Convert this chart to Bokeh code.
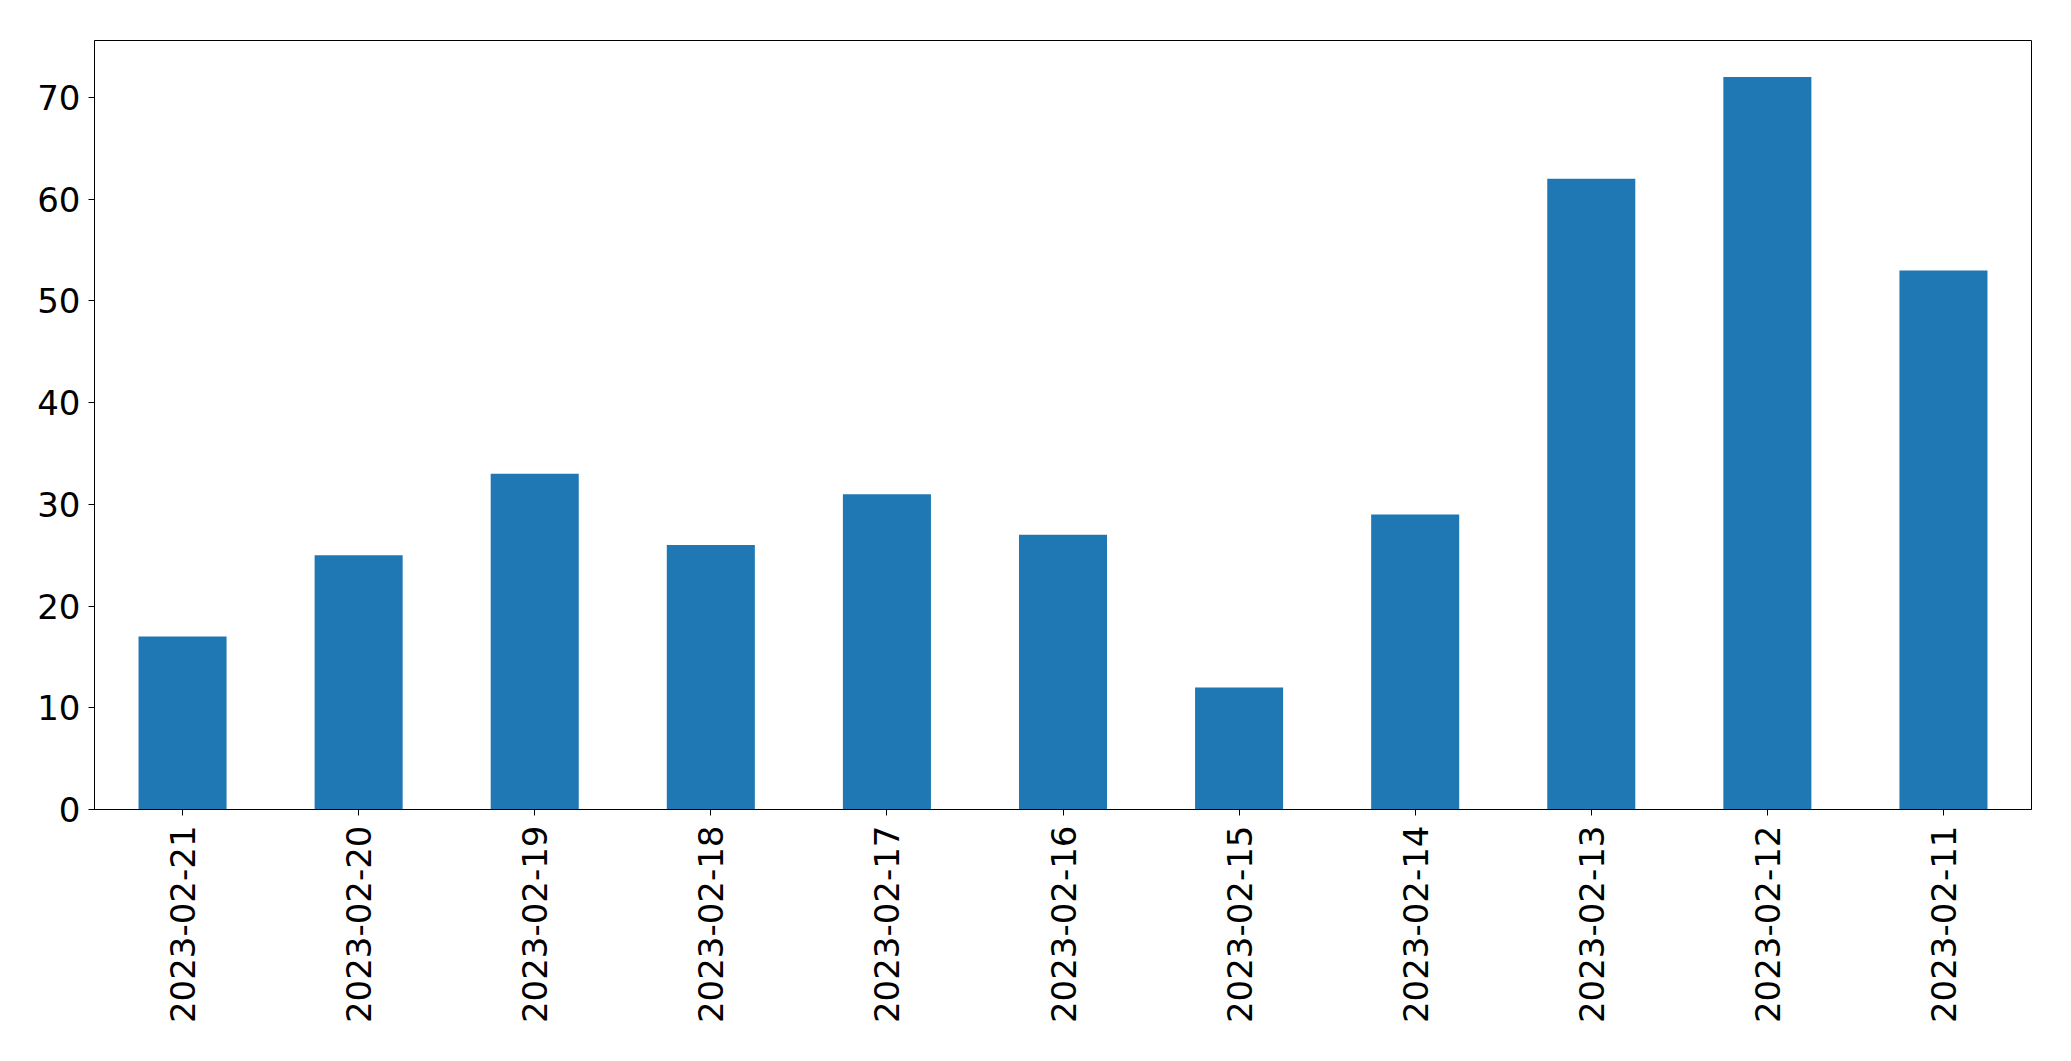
import math
from bokeh.plotting import figure
from bokeh.models import Range1d, FactorRange, SingleIntervalTicker
from bokeh.embed import file_html
from bokeh.resources import INLINE

dates = ["2023-02-21", "2023-02-20", "2023-02-19", "2023-02-18", "2023-02-17",
         "2023-02-16", "2023-02-15", "2023-02-14", "2023-02-13", "2023-02-12",
         "2023-02-11"]
counts = [17, 25, 33, 26, 31, 27, 12, 29, 62, 72, 53]

p = figure(width=2063, height=1053, output_backend="svg", toolbar_location=None,
           x_range=FactorRange(*dates, range_padding=0),
           y_range=Range1d(0, max(counts) * 1.05),
           min_border_left=94, min_border_right=32, min_border_top=40,
           min_border_bottom=244)

p.vbar(x=dates, top=counts, width=0.5, color="#1f77b4", line_color=None)

p.xgrid.visible = False
p.ygrid.visible = False
p.outline_line_color = "black"
p.outline_line_width = 1
p.outline_line_alpha = 1

p.yaxis.ticker = SingleIntervalTicker(interval=10, num_minor_ticks=0)
for ax in (p.xaxis, p.yaxis):
    ax.major_label_text_font = "DejaVu Sans"
    ax.major_label_text_font_size = "34px"
    ax.major_label_text_color = "black"
    ax.axis_line_color = "black"
    ax.major_tick_line_color = "black"
    ax.major_tick_in = 0
    ax.major_tick_out = 6
    ax.minor_tick_line_color = None

p.xaxis.major_label_orientation = math.pi / 2
p.xaxis.major_label_standoff = 10
p.yaxis.major_label_standoff = 8

open("out.html", "w").write(file_html(p, INLINE))
